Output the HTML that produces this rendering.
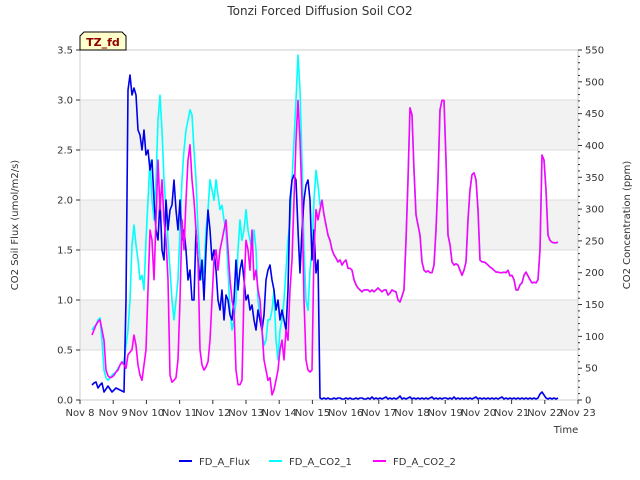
<!DOCTYPE html>
<html><head><meta charset="utf-8"><style>
body{margin:0;background:#fff;}
svg{display:block;font-family:"DejaVu Sans","Liberation Sans",sans-serif;}
</style></head><body>
<svg id="chart" width="640" height="480"></svg>
<script>
const xTickLabels=["Nov 8","Nov 9","Nov 10","Nov 11","Nov 12","Nov 13","Nov 14","Nov 15","Nov 16","Nov 17","Nov 18","Nov 19","Nov 20","Nov 21","Nov 22","Nov 23"];
const leftTicks=[0,0.5,1.0,1.5,2.0,2.5,3.0,3.5];
const rightTicks=[0,50,100,150,200,250,300,350,400,450,500,550];
const startDay=0.3614, stepDay=0.06024;
const fluxVals=[0.15,0.17,0.18,0.12,0.15,0.17,0.08,0.11,0.14,0.11,0.08,0.10,0.12,0.11,0.10,0.09,0.08,
1.00,3.10,3.25,3.05,3.12,3.05,2.70,2.65,2.50,2.70,2.45,2.50,2.30,2.40,2.00,1.70,1.60,2.00,1.50,1.40,
2.00,1.70,1.90,1.95,2.20,1.90,1.70,2.00,1.60,1.70,1.50,1.20,1.30,1.00,1.00,1.70,1.40,1.20,1.40,1.00,
1.50,1.90,1.70,1.40,1.50,1.30,1.00,0.90,1.10,0.80,1.05,1.00,0.85,0.80,1.00,1.40,1.10,1.30,1.40,1.20,
1.00,1.05,0.90,0.95,0.80,0.70,0.90,0.80,0.70,0.85,1.20,1.30,1.35,1.20,1.10,0.90,1.00,0.80,0.90,0.80,
0.70,1.10,2.00,2.20,2.25,2.20,1.70,1.27,1.70,2.00,2.15,2.20,2.00,1.40,1.70,1.27,1.40,0.02,
0.01,0.02,0.01,0.02,0.01,0.01,0.02,0.01,0.02,0.02,0.01,0.01,0.02,0.01,0.02,0.01,0.01,0.02,0.01,0.02,
0.02,0.01,0.01,0.02,0.01,0.03,0.01,0.02,0.01,0.02,0.01,0.02,0.03,0.01,0.02,0.01,0.02,0.01,0.02,0.04,
0.01,0.02,0.01,0.02,0.03,0.01,0.02,0.01,0.02,0.01,0.02,0.01,0.02,0.01,0.02,0.03,0.01,0.02,0.01,0.02,
0.01,0.02,0.02,0.01,0.02,0.01,0.03,0.01,0.02,0.01,0.02,0.01,0.02,0.01,0.02,0.01,0.02,0.03,0.01,0.02,
0.01,0.02,0.01,0.02,0.01,0.02,0.01,0.02,0.01,0.02,0.03,0.01,0.02,0.01,0.02,0.01,0.02,0.01,0.02,0.01,
0.02,0.01,0.02,0.01,0.02,0.01,0.02,0.01,0.02,0.06,0.08,0.05,0.02,0.01,0.02,0.01,0.02,0.01,0.02];
const co2_2=[102,110,118,123,126,110,94,47,38,35,36,39,44,47,55,60,55,50,71,75,79,102,86,55,39,31,55,79,
173,267,251,189,283,377,299,346,283,251,189,39,28,31,35,63,157,283,236,314,377,401,346,314,267,220,
79,55,47,52,60,94,157,220,236,204,236,251,267,283,236,189,157,141,47,24,24,31,173,251,236,204,267,189,
204,173,157,110,63,47,31,35,8,16,31,47,79,94,63,110,94,173,220,314,408,471,408,314,157,63,47,44,47,
236,299,283,299,314,291,275,259,251,236,228,223,217,220,212,217,220,207,207,204,189,181,176,173,170,
173,173,173,170,173,170,173,176,173,170,173,173,165,168,173,171,170,157,154,163,173,251,346,459,448,
361,291,275,259,217,204,201,203,200,200,212,267,346,456,471,471,377,259,244,217,212,214,212,204,196,
204,217,283,330,354,357,346,299,220,217,217,215,212,209,207,204,201,201,200,200,201,200,204,195,196,
189,173,173,181,184,196,201,195,189,184,185,184,189,236,385,377,330,259,251,248,247,247,248];
const co2_1Head=[110,115,118,126,129,94,47,35,31,35,39,42,44,50,55,58,60,86,110,157,244,275,244,220,189,
196,173,251,314,377,314,283,346,440,479,424,346,299,251,204,157,126,157,189,267,346,393,424,440,456,
448,393,346,267,220,189,204,267,299,346,330,314,346,322,299,306,283,267,204,141,110,126,157,236,283,
251,267,299,267,251,236,267,236,157,126,110,86,94,126,126,141,173,94,63,110,126,157,204,251,283,346,
408,471,542,487,377,236,157,141,204,236,314,361,338,306,314];
const co2_1=co2_1Head.concat(co2_2.slice(co2_1Head.length));

const NS="http://www.w3.org/2000/svg";
const svg=document.getElementById('chart');
const L=80,R=578,T=50,B=400;
const xS=d=>L+(R-L)*d/15;
const yL=v=>B-(B-T)*v/3.5;
const yR=v=>B-(B-T)*v/550;
function mk(tag,attrs,parent){const e=document.createElementNS(NS,tag);for(const k in attrs)e.setAttribute(k,attrs[k]);(parent||svg).appendChild(e);return e;}
function txt(s,attrs){const e=mk('text',attrs);e.textContent=s;return e;}

// bands
[[0.5,1.0],[1.5,2.0],[2.5,3.0]].forEach(b=>{
  const r=mk('rect',{x:L,y:yL(b[1]),width:R-L,height:yL(b[0])-yL(b[1]),fill:'#f2f2f2'});
  
  
});
leftTicks.forEach(v=>{
  const g=mk('line',{x1:L,x2:R,y1:yL(v),y2:yL(v),stroke:'#dcdcdc','stroke-width':1});
  
  
});
const frame=mk('rect',{x:L,y:T,width:R-L,height:B-T,fill:'none',stroke:'#cccccc','stroke-width':1});



function series(vals,scale,color,name){
  const pts=vals.map((v,i)=>xS(startDay+i*stepDay).toFixed(1)+','+scale(v).toFixed(1)).join(' ');
  const p=mk('polyline',{points:pts,fill:'none',stroke:color,'stroke-width':1.6,'stroke-linejoin':'round'});
  
  
}
series(co2_1,yR,'#00ffff','series-fd-a-co2-1');
series(fluxVals,yL,'#0000ee','series-fd-a-flux');
series(co2_2,yR,'#ff00ff','series-fd-a-co2-2');

// x ticks
xTickLabels.forEach((s,i)=>{
  mk('line',{x1:xS(i),x2:xS(i),y1:B,y2:B+4,stroke:'#333'});
  const t=txt(s,{x:xS(i),y:B+16,'font-size':10,'text-anchor':'middle',fill:'#333'});
  
  
});
leftTicks.forEach(v=>{
  mk('line',{x1:L-4,x2:L,y1:yL(v),y2:yL(v),stroke:'#333'});
  const t=txt(v.toFixed(1),{x:L-7,y:yL(v)+3.5,'font-size':10,'text-anchor':'end',fill:'#333'});
  
  
});
for(let v=0;v<=550;v+=10){
  const maj=v%50===0;
  mk('line',{x1:R,x2:R+(maj?4:2),y1:yR(v),y2:yR(v),stroke:'#333'});
}
rightTicks.forEach(v=>{
  const t=txt(String(v),{x:R+7,y:yR(v)+3.5,'font-size':10,'text-anchor':'start',fill:'#333'});
  
  
});
</script>
<svg width="0" height="0"></svg>
<div style="position:absolute;left:0;top:0;width:640px;height:480px;pointer-events:none">
<svg width="640" height="480" style="font-family:'DejaVu Sans','Liberation Sans',sans-serif">
<text x="320" y="15" font-size="12" text-anchor="middle" fill="#333">Tonzi Forced Diffusion Soil CO2</text>
<g>
<path d="M80,50 L80,36 L84,32 L122,32 L126,36 L126,50 Z" fill="#ffffcc" stroke="#000" stroke-width="1"/>
<text x="103" y="46" font-size="11" font-weight="bold" text-anchor="middle" fill="#8b0000">TZ_fd</text>
</g>
<text transform="translate(18,225) rotate(-90)" font-size="10" text-anchor="middle" fill="#333">CO2 Soil Flux (umol/m2/s)</text>
<text transform="translate(630,225) rotate(-90)" font-size="10" text-anchor="middle" fill="#333">CO2 Concentration (ppm)</text>
<text x="566" y="433" font-size="10" text-anchor="middle" fill="#333">Time</text>
<g font-size="10" fill="#333">
<g><line x1="179" x2="192" y1="461" y2="461" stroke="#0000ee" stroke-width="2"/><text x="199" y="465">FD_A_Flux</text></g>
<g><line x1="269" x2="282" y1="461" y2="461" stroke="#00ffff" stroke-width="2"/><text x="289" y="465">FD_A_CO2_1</text></g>
<g><line x1="373" x2="386" y1="461" y2="461" stroke="#ff00ff" stroke-width="2"/><text x="393" y="465">FD_A_CO2_2</text></g>
</g>
</svg></div>
</body></html>
